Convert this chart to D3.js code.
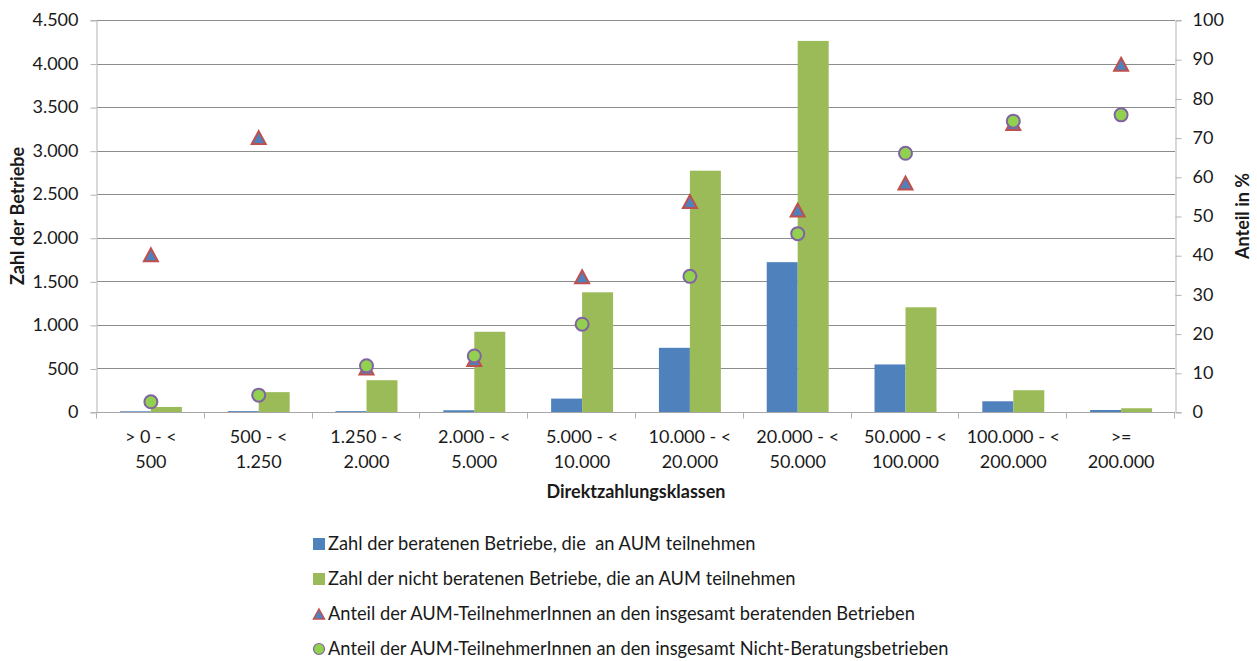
<!DOCTYPE html>
<html>
<head>
<meta charset="utf-8">
<script src="https://cdn.jsdelivr.net/npm/d3@7"></script>
<style>
  html, body { margin: 0; padding: 0; background: #fff; }
  svg { display: block; font-family: Lato, "Liberation Sans", sans-serif; }
  .txt { fill: #1a1a1a; }
  .pre { white-space: pre; }
</style>
</head>
<body>
<svg id="chart" width="1257" height="661"></svg>
<script>
// Direktzahlungsklassen (two lines per label)
const categories = [
  ["> 0 - <", "500"],
  ["500 - <", "1.250"],
  ["1.250 - <", "2.000"],
  ["2.000 - <", "5.000"],
  ["5.000 - <", "10.000"],
  ["10.000 - <", "20.000"],
  ["20.000 - <", "50.000"],
  ["50.000 - <", "100.000"],
  ["100.000 - <", "200.000"],
  [">=", "200.000"]
];

// Number of farms taking part in AUM (left axis)
const beratenBetriebe      = [8, 10, 10, 20, 154, 737, 1720, 546, 123, 23];
const nichtBeratenBetriebe = [58, 228, 365, 921, 1374, 2770, 4260, 1202, 250, 43];

// Shares in percent (right axis)
const anteilBeraten = [40.1, 70.0, 11.2, 13.4, 34.5, 53.7, 51.5, 58.4, 73.6, 88.7];
const anteilNicht   = [2.6, 4.3, 11.8, 14.3, 22.4, 34.6, 45.5, 66.0, 74.2, 75.8];

const leftTicks  = [0, 500, 1000, 1500, 2000, 2500, 3000, 3500, 4000, 4500];
const rightTicks = [0, 10, 20, 30, 40, 50, 60, 70, 80, 90, 100];

const legendLabels = [
  "Zahl der beratenen Betriebe, die  an AUM teilnehmen",
  "Zahl der nicht beratenen Betriebe, die an AUM teilnehmen",
  "Anteil der AUM-TeilnehmerInnen an den insgesamt beratenden Betrieben",
  "Anteil der AUM-TeilnehmerInnen an den insgesamt Nicht-Beratungsbetrieben"
];

const colors = {
  blue: "#4F81BD", green: "#9BBB59",
  triFill: "#4F81BD", triStroke: "#C0504D",
  dotFill: "#92D050", dotStroke: "#8064A2",
  grid: "#8c8c8c", axis: "#b3b3b3"
};

const svg = d3.select("#chart");
const plot = { left: 97, right: 1175, top: 20, bottom: 412 };
const fontSize = 18;
const legendFontSize = 18.3;

const x = d3.scaleBand()
  .domain(d3.range(categories.length))
  .range([plot.left, plot.right]);

const xSub = d3.scaleBand()
  .domain(["b", "n"])
  .range([0, x.bandwidth()])
  .paddingOuter(0.74);

const yL = d3.scaleLinear().domain([0, 4500]).range([plot.bottom, plot.top]);
const yR = d3.scaleLinear().domain([0, 100]).range([plot.bottom, plot.top]);

// Horizontal gridlines
svg.append("g")
  .selectAll("line")
  .data(leftTicks.filter(d => d > 0))
  .join("line")
  .attr("x1", plot.left).attr("x2", plot.right)
  .attr("y1", d => Math.round(yL(d)) + 0.5).attr("y2", d => Math.round(yL(d)) + 0.5)
  .attr("stroke", colors.grid).attr("stroke-width", 1);

// Left axis
const gLeft = svg.append("g").attr("transform", `translate(${plot.left - 0.5},0)`)
  .call(d3.axisLeft(yL).tickValues(leftTicks).tickSize(6).tickPadding(12)
    .tickFormat(d => d3.format(",")(d).replace(/,/g, ".")));
gLeft.select(".domain").attr("stroke", colors.axis);
gLeft.selectAll(".tick line").attr("stroke", colors.axis)
  .attr("transform", "translate(0,0.5)");
gLeft.selectAll(".tick text").attr("class", "txt")
  .style("font-size", fontSize + "px").style("font-family", "Lato, sans-serif");

// Right axis
const gRight = svg.append("g").attr("transform", `translate(${plot.right + 0.5},0)`)
  .call(d3.axisRight(yR).tickValues(rightTicks).tickSize(6).tickPadding(11));
gRight.select(".domain").attr("stroke", colors.axis);
gRight.selectAll(".tick line").attr("stroke", colors.axis)
  .attr("transform", "translate(0,0.5)");
gRight.selectAll(".tick text").attr("class", "txt")
  .style("font-size", fontSize + "px").style("font-family", "Lato, sans-serif");

// Bottom axis with ticks at category boundaries
const bottomY = Math.round(yL(0)) + 0.5;
svg.append("line")
  .attr("x1", plot.left).attr("x2", plot.right)
  .attr("y1", bottomY).attr("y2", bottomY)
  .attr("stroke", "#a6a6a6");
svg.append("g")
  .selectAll("line")
  .data(d3.range(categories.length + 1))
  .join("line")
  .attr("x1", i => Math.round(plot.left + i * x.step()) - 0.5)
  .attr("x2", i => Math.round(plot.left + i * x.step()) - 0.5)
  .attr("y1", bottomY).attr("y2", bottomY + 6)
  .attr("stroke", colors.axis);

// Category labels
const catLabels = svg.append("g").selectAll("text")
  .data(categories)
  .join("text")
  .attr("class", "txt")
  .attr("text-anchor", "middle")
  .style("font-size", fontSize + "px");
catLabels.each(function (lines, i) {
  const t = d3.select(this);
  lines.forEach((ln, k) => {
    t.append("tspan")
      .attr("x", x(i) + x.bandwidth() / 2)
      .attr("y", 443 + k * 25)
      .text(ln);
  });
});

// Bars
const bars = svg.append("g");
bars.selectAll("rect.b")
  .data(beratenBetriebe)
  .join("rect")
  .attr("class", "b")
  .attr("x", (d, i) => x(i) + xSub("b"))
  .attr("width", xSub.bandwidth())
  .attr("y", d => yL(d))
  .attr("height", d => yL(0) - yL(d))
  .attr("fill", colors.blue);
bars.selectAll("rect.n")
  .data(nichtBeratenBetriebe)
  .join("rect")
  .attr("class", "n")
  .attr("x", (d, i) => x(i) + xSub("n"))
  .attr("width", xSub.bandwidth())
  .attr("y", d => yL(d))
  .attr("height", d => yL(0) - yL(d))
  .attr("fill", colors.green);

// Markers
function triPath(w, h) {
  return `M0,${-h / 2}L${w / 2},${h / 2}L${-w / 2},${h / 2}Z`;
}
const cx = i => x(i) + x.bandwidth() / 2;

svg.append("g").selectAll("path")
  .data(anteilBeraten)
  .join("path")
  .attr("d", triPath(14, 13))
  .attr("transform", (d, i) => `translate(${cx(i)},${yR(d)})`)
  .attr("fill", colors.triFill)
  .attr("stroke", colors.triStroke)
  .attr("stroke-width", 2)
  .attr("stroke-linejoin", "miter");

svg.append("g").selectAll("circle")
  .data(anteilNicht)
  .join("circle")
  .attr("cx", (d, i) => cx(i))
  .attr("cy", d => yR(d))
  .attr("r", 6.5)
  .attr("fill", colors.dotFill)
  .attr("stroke", colors.dotStroke)
  .attr("stroke-width", 2);

// Axis titles
svg.append("text")
  .attr("class", "txt")
  .attr("transform", `translate(24,${(plot.top + plot.bottom) / 2}) rotate(-90)`)
  .attr("text-anchor", "middle")
  .style("font-size", fontSize + "px").style("font-weight", "bold")
  .text("Zahl der Betriebe");

svg.append("text")
  .attr("class", "txt")
  .attr("transform", `translate(1249,${(plot.top + plot.bottom) / 2}) rotate(-90)`)
  .attr("text-anchor", "middle")
  .style("font-size", fontSize + "px").style("font-weight", "bold")
  .text("Anteil in %");

svg.append("text")
  .attr("class", "txt")
  .attr("x", (plot.left + plot.right) / 2)
  .attr("y", 498)
  .attr("text-anchor", "middle")
  .style("font-size", fontSize + "px").style("font-weight", "bold")
  .text("Direktzahlungsklassen");

// Legend
const legend = svg.append("g");
const legY = d3.scaleLinear().domain([0, 1]).range([544, 579]);
const lx = 319;
legendLabels.forEach((label, i) => {
  const y = legY(i);
  if (i === 0 || i === 1) {
    legend.append("rect")
      .attr("x", lx - 6).attr("y", y - 6)
      .attr("width", 12).attr("height", 12)
      .attr("fill", i === 0 ? colors.blue : colors.green);
  } else if (i === 2) {
    legend.append("path")
      .attr("d", triPath(11, 10))
      .attr("transform", `translate(${lx},${y})`)
      .attr("fill", colors.triFill)
      .attr("stroke", colors.triStroke)
      .attr("stroke-width", 1.5);
  } else {
    legend.append("circle")
      .attr("cx", lx).attr("cy", y).attr("r", 5.5)
      .attr("fill", colors.dotFill)
      .attr("stroke", colors.dotStroke)
      .attr("stroke-width", 1.2);
  }
  legend.append("text")
    .attr("class", "txt pre")
    .attr("x", 328)
    .attr("y", y)
    .attr("dy", "0.35em")
    .style("font-size", legendFontSize + "px")
    .text(label);
});
</script>
</body>
</html>
